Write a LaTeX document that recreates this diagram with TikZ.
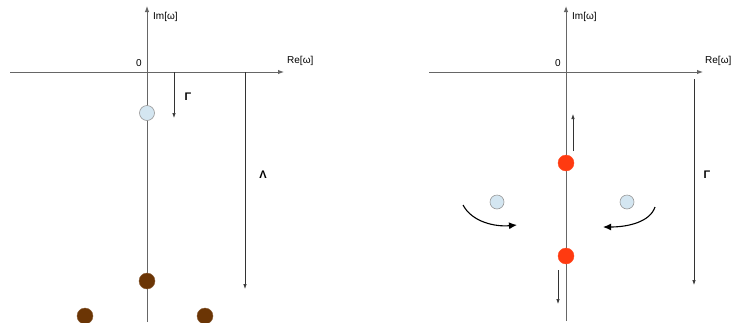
\documentclass[tikz,border=0pt]{standalone}
\usepackage{fontspec}
\setmainfont{Liberation Sans}
\usetikzlibrary{arrows.meta}
\definecolor{lblue}{HTML}{D4E6F1}
\definecolor{dotbrown}{HTML}{6B3505}
\definecolor{dotred}{HTML}{FF3A10}
\begin{document}
\begin{tikzpicture}[x=1pt,y=-1pt,
  axisline/.style={draw=black!60, line width=1pt, -{Latex[length=6pt,width=4.5pt]}},
  markarrow/.style={draw=black!80, line width=0.7pt, -{Latex[length=5pt,width=3.5pt]}},
  curvearrow/.style={draw=black, line width=1.1pt, -{Latex[length=8pt,width=7pt]}},
  bluedot/.style={circle, fill=lblue, draw=black!40, line width=0.6pt, minimum size=15pt, inner sep=0pt},
  browndot/.style={circle, fill=dotbrown, draw=dotbrown!80!white, minimum size=16pt, inner sep=0pt},
  reddot/.style={circle, fill=dotred, draw=dotred!90!white, minimum size=16pt, inner sep=0pt},
  axlabel/.style={font=\fontsize{10}{11}\selectfont, inner sep=1pt},
  greek/.style={font=\fontsize{11}{12}\selectfont\bfseries, inner sep=1pt}
]
\useasboundingbox (0,0) rectangle (734,322);

% ---------- left panel ----------
\coordinate (Lxs) at (10,72);
\coordinate (Lxe) at (284,72);
\coordinate (Lys) at (147,322);
\coordinate (Lye) at (147,6);
\draw[axisline] (Lxs) -- (Lxe);
\draw[axisline] (Lys) -- (Lye);
\node[axlabel, anchor=west] (Lim) at (152,17) {Im[ω]};
\node[axlabel] (Lzero) at (139,63) {0};
\node[axlabel, anchor=west] (Lre) at (286,61) {Re[ω]};

\coordinate (Lg1) at (174,72);
\coordinate (Lg2) at (174,118);
\draw[markarrow] (Lg1) -- (Lg2);
\node[greek] (LG) at (188,97) {Γ};

\coordinate (Ll1) at (245,72);
\coordinate (Ll2) at (245,289);
\draw[markarrow] (Ll1) -- (Ll2);
\node[greek] (LL) at (263,175) {Λ};

\node[bluedot] (Lb) at (147,113) {};
\node[browndot] (Bc) at (147,281) {};
\node[browndot] (Bl) at (85,316) {};
\node[browndot] (Br) at (205,316) {};

% ---------- right panel ----------
\coordinate (Rxs) at (429,72);
\coordinate (Rxe) at (703,72);
\coordinate (Rys) at (566,321);
\coordinate (Rye) at (566,6);
\draw[axisline] (Rxs) -- (Rxe);
\draw[axisline] (Rys) -- (Rye);
\node[axlabel, anchor=west] (Rim) at (571,17) {Im[ω]};
\node[axlabel] (Rzero) at (558,63) {0};
\node[axlabel, anchor=west] (Rre) at (704,61) {Re[ω]};

\coordinate (Rg1) at (694,79);
\coordinate (Rg2) at (694,285);
\draw[markarrow] (Rg1) -- (Rg2);
\node[greek] (RG) at (707,175) {Γ};

\node[reddot] (R1) at (566,163) {};
\node[reddot] (R2) at (566,256) {};

\coordinate (Ru1) at (573,151);
\coordinate (Ru2) at (573,114);
\draw[markarrow] (Ru1) -- (Ru2);
\coordinate (Rd1) at (558,270);
\coordinate (Rd2) at (558,304);
\draw[markarrow] (Rd1) -- (Rd2);

\node[bluedot, minimum size=14pt] (Rbl) at (497,202) {};
\node[bluedot, minimum size=14pt] (Rbr) at (627,202) {};

\coordinate (Ca1) at (463,205);
\coordinate (Ca2) at (517,225);
\draw[curvearrow] (Ca1) .. controls (472,222) and (495,227) .. (Ca2);
\coordinate (Cb1) at (655,207);
\coordinate (Cb2) at (603,227);
\draw[curvearrow] (Cb1) .. controls (650,222) and (628,227) .. (Cb2);
\end{tikzpicture}
\end{document}
